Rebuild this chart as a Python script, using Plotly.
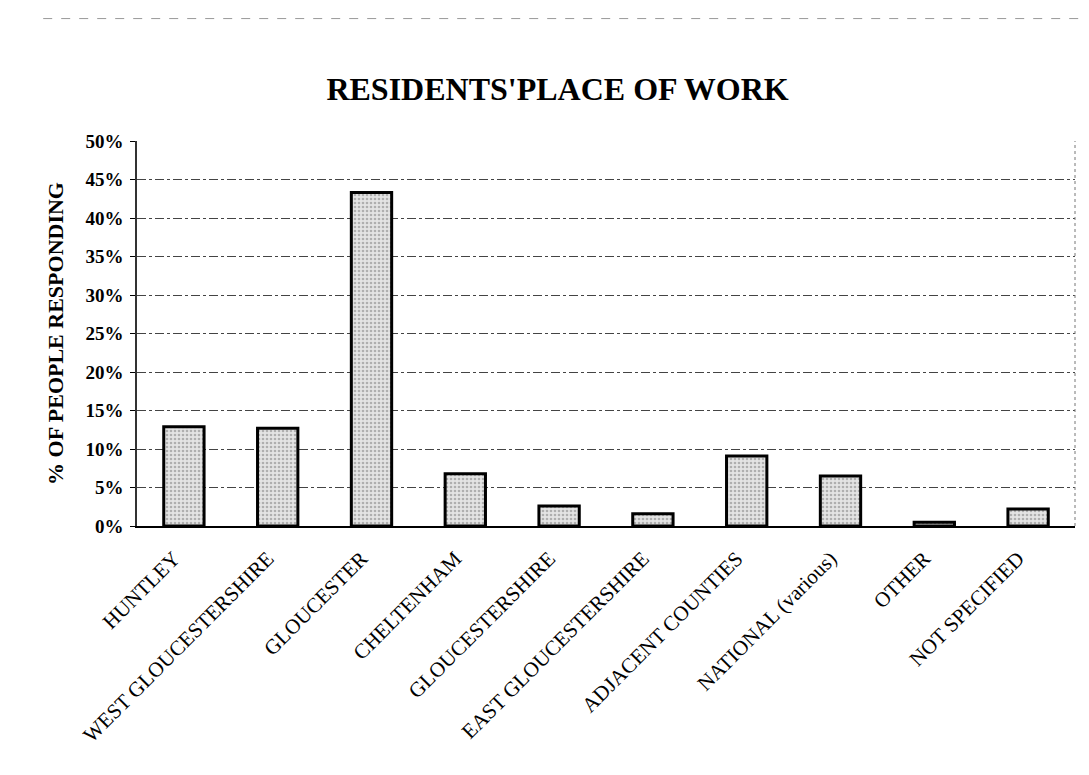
import plotly.graph_objects as go

# Survey results: where residents work
places = [
    "HUNTLEY",
    "WEST GLOUCESTERSHIRE",
    "GLOUCESTER",
    "CHELTENHAM",
    "GLOUCESTERSHIRE",
    "EAST GLOUCESTERSHIRE",
    "ADJACENT COUNTIES",
    "NATIONAL (various)",
    "OTHER",
    "NOT SPECIFIED",
]
share_pct = [12.9, 12.7, 43.3, 6.8, 2.6, 1.6, 9.1, 6.5, 0.5, 2.2]

y_ticks = [0, 5, 10, 15, 20, 25, 30, 35, 40, 45, 50]
y_tick_text = [f"{v}%" for v in y_ticks]

SERIF = "Liberation Serif, Times New Roman, serif"

fig = go.Figure(
    go.Bar(
        x=places,
        y=share_pct,
        width=0.43,
        marker=dict(
            color="#e4e4e4",
            line=dict(color="black", width=3),
            pattern=dict(shape=".", fgcolor="#7a7a7a", bgcolor="#e4e4e4",
                         size=4, solidity=0.35),
        ),
        hoverinfo="x+y",
    )
)

fig.update_layout(
    width=1089,
    height=775,
    margin=dict(l=137, r=14, t=141, b=249),
    paper_bgcolor="white",
    plot_bgcolor="white",
    showlegend=False,
    title=dict(
        text="<b>RESIDENTS'PLACE OF WORK</b>",
        x=0.512,
        xanchor="center",
        y=0.886,
        yanchor="middle",
        font=dict(family=SERIF, size=32, color="black"),
    ),
    font=dict(family=SERIF, color="black"),
)

fig.update_xaxes(
    tickangle=-45,
    tickfont=dict(family=SERIF, size=21, color="black"),
    ticklabelshift=-10,
    ticklabelstandoff=10,
    showline=True,
    linecolor="black",
    linewidth=2,
    ticks="",
    showgrid=False,
    mirror=False,
)

fig.update_yaxes(
    range=[0, 50],
    tickvals=y_ticks,
    ticktext=[f"<b>{t}</b>" for t in y_tick_text],
    tickfont=dict(family=SERIF, size=19, color="black"),
    ticks="outside",
    ticklen=5,
    tickcolor="black",
    ticklabelstandoff=3,
    showline=True,
    linecolor="#333333",
    linewidth=1.5,
    showgrid=True,
    gridcolor="#444444",
    gridwidth=1,
    griddash="dashdot",
    zeroline=False,
    title=dict(
        text="<b>% OF PEOPLE RESPONDING</b>",
        font=dict(family=SERIF, size=22, color="black"),
        standoff=16,
    ),
)

# Dotted frame on the right edge of the plotting area
fig.add_shape(
    type="line", xref="paper", yref="paper",
    x0=1, x1=1, y0=0, y1=1,
    line=dict(color="#777777", width=1, dash="dot"),
)

# Faint dashed rule across the top of the page
fig.add_shape(
    type="line", xref="paper", yref="paper",
    x0=-0.10, x1=1.01, y0=1.318, y1=1.318,
    line=dict(color="#999999", width=1, dash="dash"),
)

fig.write_html("out.html")
